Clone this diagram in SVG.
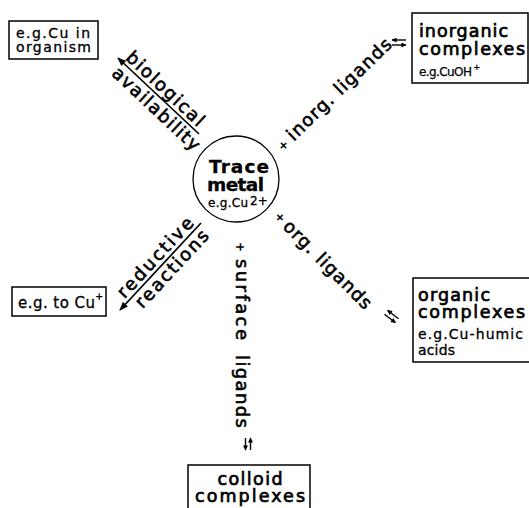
<svg xmlns="http://www.w3.org/2000/svg" width="529" height="508" viewBox="0 0 529 508">
<style>
text{font-family:"DejaVu Sans","Liberation Sans",sans-serif;fill:#000}
.t{font-size:18px;stroke:#000;stroke-width:0.6}
.h{font-size:17.5px;stroke:#000;stroke-width:0.7}
.s{font-size:14px;stroke:#000;stroke-width:0.3}
.b{font-size:18.5px;font-weight:bold;stroke:#000;stroke-width:0.3}
.pl{font-size:12px;font-weight:bold}
.box{fill:#fff;stroke:#000;stroke-width:1.5}
.ln{fill:none;stroke:#000;stroke-width:1.7}
.sm{fill:none;stroke:#000;stroke-width:1.4}
</style>
<defs>
<marker id="ah" viewBox="0 0 10 8" refX="9" refY="4" markerWidth="10" markerHeight="7" markerUnits="userSpaceOnUse" orient="auto"><path d="M0,0L10,4L0,8z"/></marker>
<marker id="sh" viewBox="0 0 6 6" refX="5.5" refY="3" markerWidth="5.5" markerHeight="5" markerUnits="userSpaceOnUse" orient="auto"><path d="M0,0L6,3L0,6z"/></marker>
</defs>
<rect width="529" height="508" fill="#fff"/>

<g id="connectors">
  <g id="edge-biological">
    <path class="ln" d="M199,134L118,58" marker-end="url(#ah)"/>
    <g transform="translate(158.5,96) rotate(43.2)">
      <text class="t" x="0" y="-4" text-anchor="middle" textLength="100" lengthAdjust="spacing">biological</text>
      <text class="t" x="7" y="17" text-anchor="middle" textLength="113" lengthAdjust="spacing">availability</text>
    </g>
  </g>
  <g id="edge-reductive">
    <path class="ln" d="M201,223L120,310" marker-end="url(#ah)"/>
    <g transform="translate(160.5,266.5) rotate(-47.1)">
      <text class="t" x="3" y="-4" text-anchor="middle" textLength="103" lengthAdjust="spacing">reductive</text>
      <text class="t" x="6" y="16" text-anchor="middle" textLength="99" lengthAdjust="spacing">reactions</text>
    </g>
  </g>
  <g id="edge-inorganic">
    <g transform="translate(283,145) rotate(-44)">
      <text class="pl" x="0" y="4.5" text-anchor="middle">+</text>
      <text class="t" x="10" y="5" textLength="138" lengthAdjust="spacing">inorg. ligands</text>
    </g>
    <path class="sm" d="M406,40L392,40" marker-end="url(#sh)"/>
    <path class="sm" d="M392,45L406,45" marker-end="url(#sh)"/>
  </g>
  <g id="edge-organic">
    <g transform="translate(280.5,217) rotate(45)">
      <text class="pl" x="0" y="4.5" text-anchor="middle">+</text>
      <text class="t" x="8.5" y="6.5" textLength="117" lengthAdjust="spacing">org. ligands</text>
    </g>
    <path class="sm" d="M398.5,318.8L387.5,310.2" marker-end="url(#sh)"/>
    <path class="sm" d="M384.5,314.2L395.5,322.8" marker-end="url(#sh)"/>
  </g>
  <g id="edge-surface">
    <g transform="translate(236,0) rotate(90)">
      <text class="pl" x="247" y="0" text-anchor="middle">+</text>
      <text class="t" x="259" y="0" textLength="81" lengthAdjust="spacing">surface</text>
      <text class="t" x="355" y="0" textLength="73" lengthAdjust="spacing">ligands</text>
    </g>
    <path class="sm" d="M245.5,438L245.5,450" marker-end="url(#sh)"/>
    <path class="sm" d="M250.5,450L250.5,438" marker-end="url(#sh)"/>
  </g>
</g>

<g id="node-trace-metal">
  <circle cx="236" cy="179" r="43" fill="#fff" stroke="#000" stroke-width="1.3"/>
  <text class="b" x="239" y="172.5" text-anchor="middle" textLength="60" lengthAdjust="spacing">Trace</text>
  <text class="b" x="235.5" y="191" text-anchor="middle" textLength="57" lengthAdjust="spacing">metal</text>
  <text x="208" y="207" style="font-size:12px;stroke:#000;stroke-width:0.3" textLength="40" lengthAdjust="spacing">e.g.Cu</text>
  <text x="250" y="205" style="font-size:12px;stroke:#000;stroke-width:0.3">2+</text>
</g>

<g id="node-organism">
  <rect class="box" x="9" y="21" width="89" height="38"/>
  <text class="s" x="16" y="38" textLength="74" lengthAdjust="spacing">e.g.Cu in</text>
  <text class="s" x="16" y="52" textLength="75" lengthAdjust="spacing">organism</text>
</g>

<g id="node-inorganic">
  <rect class="box" x="412" y="13" width="116" height="70"/>
  <text class="h" x="419" y="37" textLength="89" lengthAdjust="spacing">inorganic</text>
  <text class="h" x="419" y="55" textLength="106" lengthAdjust="spacing">complexes</text>
  <text x="419" y="76" style="font-size:12px;stroke:#000;stroke-width:0.25" textLength="53" lengthAdjust="spacing">e.g.CuOH</text>
  <text x="473" y="70" style="font-size:9px;font-weight:bold">+</text>
</g>

<g id="node-reduced">
  <rect class="box" x="12" y="287" width="94" height="29"/>
  <text x="18" y="308" style="font-size:15px;stroke:#000;stroke-width:0.3" textLength="77" lengthAdjust="spacing">e.g. to Cu</text>
  <text x="95" y="300" style="font-size:10px;font-weight:bold">+</text>
</g>

<g id="node-organic">
  <rect class="box" x="413" y="278" width="122" height="84"/>
  <text class="h" x="418" y="301" textLength="72" lengthAdjust="spacing">organic</text>
  <text class="h" x="418" y="318" textLength="107" lengthAdjust="spacing">complexes</text>
  <text class="s" x="418" y="339" textLength="105" lengthAdjust="spacing">e.g.Cu-humic</text>
  <text class="s" x="418" y="355" textLength="37" lengthAdjust="spacing">acids</text>
</g>

<g id="node-colloid">
  <rect class="box" x="188" y="465" width="122" height="50"/>
  <text class="h" x="250" y="485" text-anchor="middle" textLength="65" lengthAdjust="spacing">colloid</text>
  <text class="h" x="250" y="502" text-anchor="middle" textLength="110" lengthAdjust="spacing">complexes</text>
</g>
</svg>
